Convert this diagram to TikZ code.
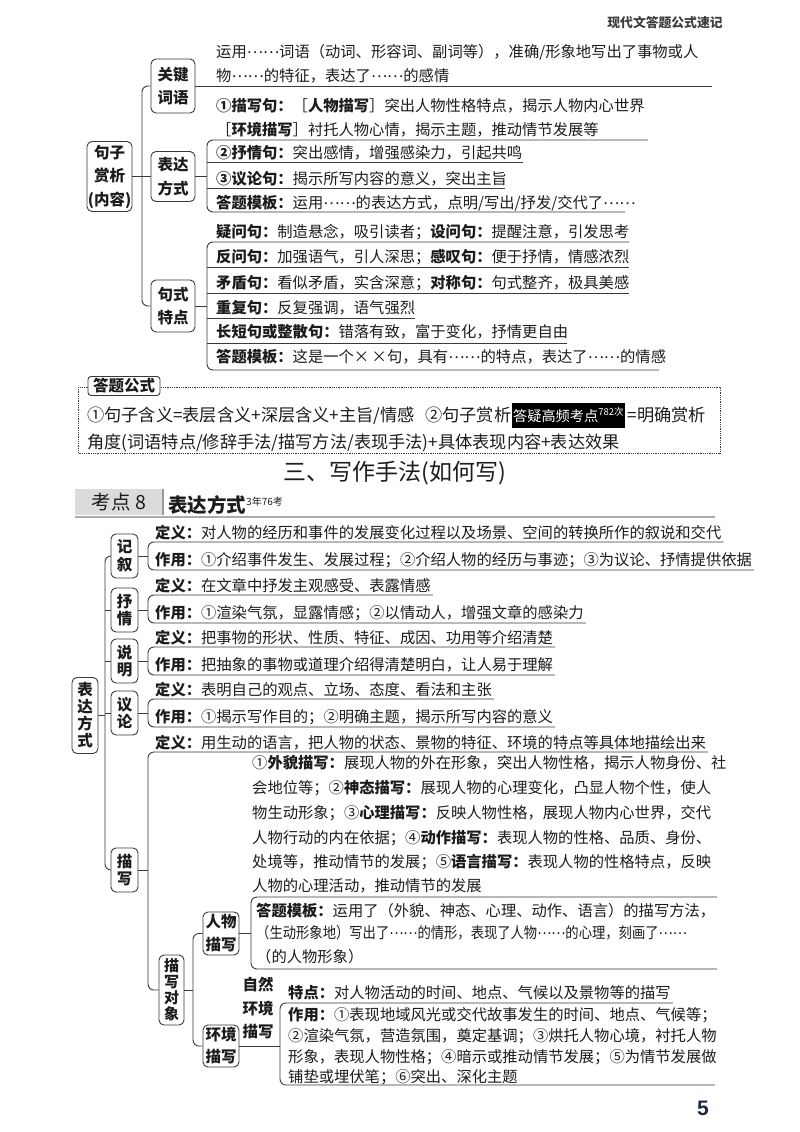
\documentclass[tikz,border=0pt]{standalone}
\usepackage{fontspec}
\setmainfont{Noto Sans CJK SC}
\newfontfamily\numfont{Liberation Sans}
\usetikzlibrary{calc}
\definecolor{ink}{HTML}{1C1C1C}
\definecolor{linec}{HTML}{3A3A3A}
\definecolor{navy}{HTML}{1F2A4A}
\newcommand{\eli}{\raisebox{0.3em}{……}}
\begin{document}
\begin{tikzpicture}[x=1pt,y=-1pt,
 ln/.style={draw=linec, line width=0.9pt},
 br/.style={ln, rounded corners=6pt},
 box/.style={draw=linec, line width=0.9pt, rounded corners=5pt, inner sep=0pt, align=center, text=ink, font=\bfseries\fontsize{15.5}{23}\selectfont},
 vbox/.style={box, minimum width=27pt, minimum height=44pt, font=\bfseries\fontsize{15.5}{17.5}\selectfont},
 t/.style={anchor=west, inner sep=0pt, text=ink, text height=13.6pt, text depth=2pt, font=\fontsize{15.3}{18}\selectfont},
 tf/.style={t, text height=15pt, text depth=2.2pt, font=\fontsize{17.2}{20}\selectfont},
]
\useasboundingbox (0,0) rectangle (800,1132);
\fill[white] (0,0) rectangle (800,1132);

% header
\node[font=\bfseries\fontsize{12.8}{14}\selectfont, text=ink!85, inner sep=0pt] (hdr) at (665,23) {现代文答题公式速记};

% ---------- section 1 ----------
\node[box, minimum width=44pt, minimum height=54pt] (kj) at (173,86) {关键\\词语};
\node[box, minimum width=45pt, minimum height=70pt, font=\bfseries\fontsize{15.5}{23.5}\selectfont] (jz) at (109.5,176.5) {句子\\赏析\\(内容)};
\node[box, minimum width=44pt, minimum height=50pt, font=\bfseries\fontsize{15.5}{24}\selectfont] (bd) at (173,176.5) {表达\\方式};
\node[box, minimum width=44pt, minimum height=52pt] (js) at (173,306) {句式\\特点};
\coordinate (tr1) at (142,0);
\draw[br] (kj.west) -- (kj.west -| tr1) -- (js.west -| tr1) -- (js.west);
\draw[ln] (jz.east) -- (bd.west);

\node[t] (k1) at (216,52) {运用\eli 词语（动词、形容词、副词等），准确/形象地写出了事物或人};
\node[t] (k2) at (216,76) {物\eli 的特征，表达了\eli 的感情};
\coordinate (kje) at (712,86);
\draw[ln] (kj.east) -- (kj.east -| kje);

\node[t] (b1) at (216,106) {\textbf{①描写句：}［\textbf{人物描写}］突出人物性格特点，揭示人物内心世界};
\node[t] (b2) at (216,130) {［\textbf{环境描写}］衬托人物心情，揭示主题，推动情节发展等};
\node[t] (b3) at (216,153) {\textbf{②抒情句：}突出感情，增强感染力，引起共鸣};
\node[t] (b4) at (216,179) {\textbf{③议论句：}揭示所写内容的意义，突出主旨};
\node[t] (b5) at (216,203) {\textbf{答题模板：}运用\eli 的表达方式，点明/写出/抒发/交代了\eli};
\coordinate (bt) at (207,140);
\coordinate (bb) at (207,212);
\draw[br] (648,140) -- (bt) -- (bb) -- (625,212);
\draw[ln] (bd.east) -- (bd.east -| bt);
\draw[ln] (207,162) -- (523,162);
\draw[ln] (207,188) -- (505,188);

\node[t] (s1) at (216,232) {\textbf{疑问句：}制造悬念，吸引读者；\textbf{设问句：}提醒注意，引发思考};
\node[t] (s2) at (216,257) {\textbf{反问句：}加强语气，引人深思；\textbf{感叹句：}便于抒情，情感浓烈};
\node[t] (s3) at (216,283) {\textbf{矛盾句：}看似矛盾，实含深意；\textbf{对称句：}句式整齐，极具美感};
\node[t] (s4) at (216,308) {\textbf{重复句：}反复强调，语气强烈};
\node[t] (s5) at (216,332) {\textbf{长短句或整散句：}错落有致，富于变化，抒情更自由};
\node[t] (s6) at (216,357) {\textbf{答题模板：}这是一个×\,×句，具有\eli 的特点，表达了\eli 的情感};
\coordinate (sqt) at (207,242);
\coordinate (sqb) at (207,370);
\draw[br] (629,242) -- (sqt) -- (sqb) -- (659,370);
\draw[ln] (js.east) -- (js.east -| sqt);
\foreach \yy/\xx in {267/629, 293/629, 318/415, 343/567} \draw[ln] (207,\yy) -- (\xx,\yy);

% ---------- formula box ----------
\draw[linec, densely dotted, line width=0.8pt] (78,387) rectangle (720,453);
\node[box, fill=white, rounded corners=3pt, minimum width=72pt, minimum height=19pt, font=\bfseries\fontsize{15.5}{17}\selectfont] (dg) at (124,386) {答题公式};
\node[tf] (f1) at (87,415) {①句子含义=表层含义+深层含义+主旨/情感};
\node[tf] (f2) at (425,415) {②句子赏析};
\node[anchor=west, fill=black, text=white, inner xsep=1.5pt, inner ysep=0pt, minimum height=25pt, font=\fontsize{14.2}{16}\selectfont] (hot) at (f2.east) {答疑高频考点\raisebox{6pt}{\fontsize{9.5}{10}\selectfont 782次}};
\node[tf] (f3) at ([xshift=2pt]hot.east) {=明确赏析};
\node[tf] (f4) at (87,442) {角度(词语特点/修辞手法/描写方法/表现手法)+具体表现内容+表达效果};

% ---------- title ----------
\node[font=\fontsize{23}{26}\selectfont, text=ink, inner sep=0pt] (title) at (395,473) {三、写作手法(如何写)};
\node[fill=gray!28, minimum width=88pt, minimum height=26pt, inner sep=0pt, text=ink, font=\fontsize{19.5}{20}\selectfont] (kd) at (119,502) {考点 8};
\draw[gray!80, line width=1.6pt] (kd.north east) -- (kd.south east);
\node[anchor=west, inner sep=0pt, text=ink, font=\bfseries\fontsize{19.5}{20}\selectfont] (kdt) at (168,505) {表达方式\raisebox{7pt}{\mdseries\fontsize{10}{10}\selectfont 3年76考}};
\draw[gray!65, line width=1.6pt] (75,517) -- (715,517);

% ---------- section 2 ----------
\node[vbox] (jx) at (124.5,556) {记\\叙};
\node[vbox] (sq) at (124.5,610) {抒\\情};
\node[vbox] (sm) at (124.5,661) {说\\明};
\node[vbox] (yl) at (124.5,713) {议\\论};
\node[vbox] (mx) at (124.5,870) {描\\写};
\node[vbox, minimum width=26pt, minimum height=76pt, font=\bfseries\fontsize{15.5}{17}\selectfont] (bf) at (85,715.5) {表\\达\\方\\式};
\coordinate (tr2) at (105,0);
\draw[br] (jx.west) -- (jx.west -| tr2) -- (mx.west -| tr2) -- (mx.west);
\foreach \cc in {sq,sm,yl} \draw[ln] (\cc.west) -- (\cc.west -| tr2);
\draw[ln] (bf.east) -- (bf.east -| tr2);

\node[t] (jx1) at (155,533) {\textbf{定义：}对人物的经历和事件的发展变化过程以及场景、空间的转换所作的叙说和交代};
\node[t] (jx2) at (155,560) {\textbf{作用：}①介绍事件发生、发展过程；②介绍人物的经历与事迹；③为议论、抒情提供依据};
\node[t] (sq1) at (155,586) {\textbf{定义：}在文章中抒发主观感受、表露情感};
\node[t] (sq2) at (155,613) {\textbf{作用：}①渲染气氛，显露情感；②以情动人，增强文章的感染力};
\node[t] (sm1) at (155,638) {\textbf{定义：}把事物的形状、性质、特征、成因、功用等介绍清楚};
\node[t] (sm2) at (155,665) {\textbf{作用：}把抽象的事物或道理介绍得清楚明白，让人易于理解};
\node[t] (yl1) at (155,690) {\textbf{定义：}表明自己的观点、立场、态度、看法和主张};
\node[t] (yl2) at (155,717) {\textbf{作用：}①揭示写作目的；②明确主题，揭示所写内容的意义};
\coordinate (br2) at (148,0);
\foreach \cc in {jx,sq,sm,yl}{
 \path ($(\cc1.east)+(2,9)$) coordinate (u1) ($(\cc2.east)+(2,10)$) coordinate (u2);
 \draw[br] (u1) -- (u1 -| br2) -- (u2 -| br2) -- (u2);
 \draw[ln] (\cc.east) -- (\cc.east -| br2);
}

\node[t] (mx1) at (155,743) {\textbf{定义：}用生动的语言，把人物的状态、景物的特征、环境的特点等具体地描绘出来};
\node[t] (p1) at (252,763) {①\textbf{外貌描写：}展现人物的外在形象，突出人物性格，揭示人物身份、社};
\node[t] (p2) at (252,788) {会地位等；②\textbf{神态描写：}展现人物的心理变化，凸显人物个性，使人};
\node[t] (p3) at (252,813) {物生动形象；③\textbf{心理描写：}反映人物性格，展现人物内心世界，交代};
\node[t] (p4) at (252,838) {人物行动的内在依据；④\textbf{动作描写：}表现人物的性格、品质、身份、};
\node[t] (p5) at (252,862) {处境等，推动情节的发展；⑤\textbf{语言描写：}表现人物的性格特点，反映};
\node[t] (p6) at (252,886) {人物的心理活动，推动情节的发展};

\node[box, minimum width=25pt, minimum height=70pt, font=\bfseries\fontsize{15}{16}\selectfont] (dx) at (171.5,990) {描\\写\\对\\象};
\path ($(mx1.east)+(2,9)$) coordinate (mu);
\draw[br] (mu) -- (mu -| br2) -- (dx.west -| br2) -- (dx.west);
\draw[ln] (mx.east) -- (mx.east -| br2);

\node[box, minimum width=36pt, minimum height=43pt, font=\bfseries\fontsize{15.5}{23}\selectfont] (rw) at (221,933.5) {人物\\描写};
\node[box, minimum width=36pt, minimum height=42pt, font=\bfseries\fontsize{15.5}{22}\selectfont] (hj) at (221,1046) {环境\\描写};
\coordinate (st2) at (193,0);
\draw[br] (rw.west) -- (rw.west -| st2) -- (hj.west -| st2) -- (hj.west);
\draw[ln] (dx.east) -- (dx.east -| st2);

\node[t] (r1) at (256,911) {\textbf{答题模板：}运用了（外貌、神态、心理、动作、语言）的描写方法，};
\node[t] (r2) at (256,933) {\scalebox{0.87}[1]{（生动形象地）写出了\eli 的情形，表现了人物\eli 的心理，刻画了\eli}};
\node[t] (r3) at (256,957) {（的人物形象）};
\coordinate (br4) at (251,0);
\coordinate (rwt) at (717,897);
\coordinate (rwb) at (717,969);
\draw[br] (rwt) -- (rwt -| br4) -- (rwb -| br4) -- (rwb);
\draw[ln] (rw.east) -- (rw.east -| br4);

\node[inner sep=0pt, align=center, text=ink, font=\bfseries\fontsize{15.5}{23.5}\selectfont] (zr) at (258,1008) {自然\\环境\\描写};
\node[t] (td) at (288,993) {\textbf{特点：}对人物活动的时间、地点、气候以及景物等的描写};
\node[t] (h1) at (288,1015) {\textbf{作用：}①表现地域风光或交代故事发生的时间、地点、气候等；};
\node[t] (h2) at (288,1036) {②渲染气氛，营造氛围，奠定基调；③烘托人物心境，衬托人物};
\node[t] (h3) at (288,1057) {形象，表现人物性格；④暗示或推动情节发展；⑤为情节发展做};
\node[t] (h4) at (288,1077) {铺垫或埋伏笔；⑥突出、深化主题};
\coordinate (br5) at (280,0);
\path ($(td.east)+(2,10)$) coordinate (tdu);
\coordinate (hjb) at (715,1085);
\draw[br] (tdu) -- (tdu -| br5) -- (hjb -| br5) -- (hjb);
\draw[ln] (hj.east) -- (hj.east -| br5);

% page number
\node[font=\numfont\bfseries\fontsize{21}{21}\selectfont, text=navy, inner sep=0pt] (pg) at (703,1108) {5};
\end{tikzpicture}
\end{document}
